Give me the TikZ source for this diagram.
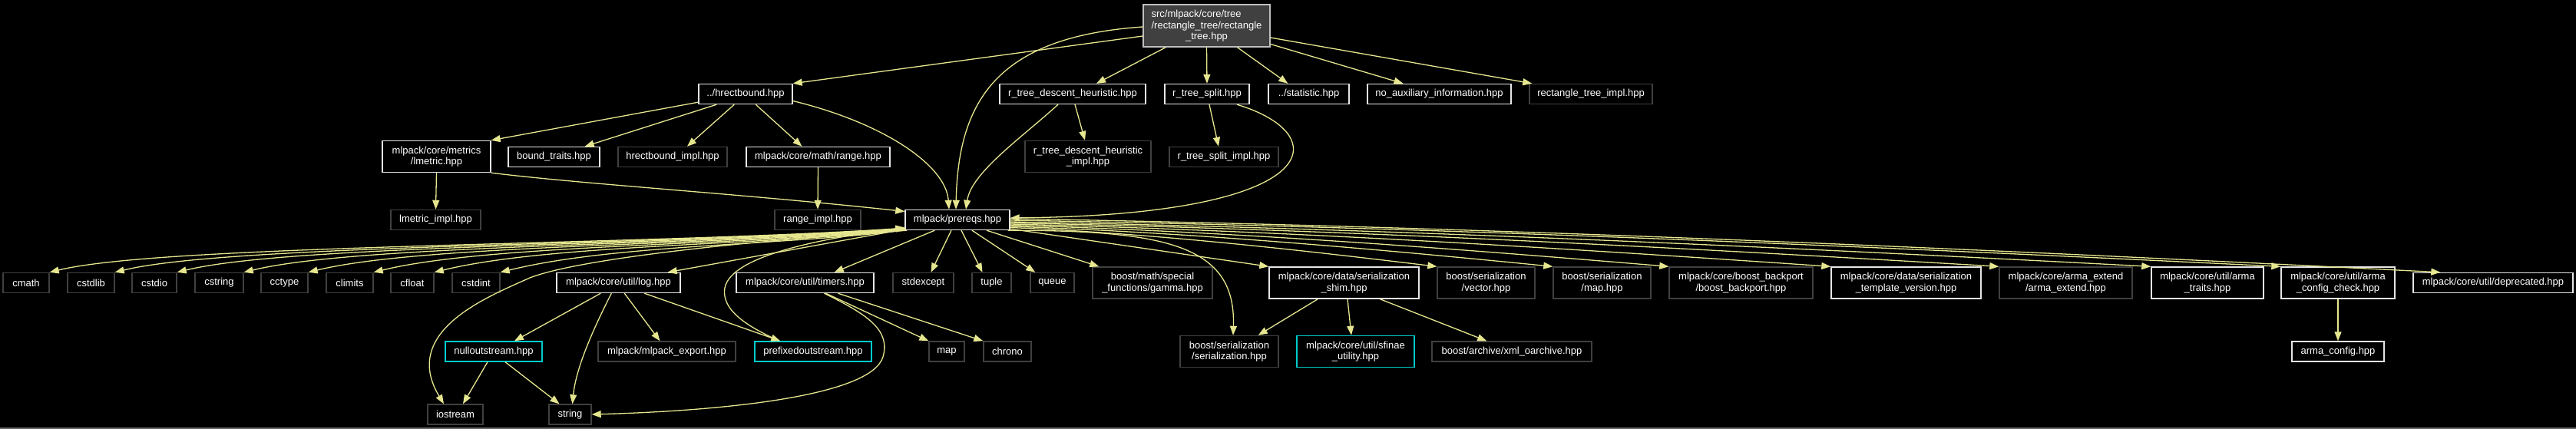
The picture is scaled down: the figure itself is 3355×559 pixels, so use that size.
\documentclass[tikz,border=0pt]{standalone}
\usepackage{fontspec}
\setmainfont{Liberation Sans}
\usetikzlibrary{arrows.meta,calc}
\definecolor{edgec}{HTML}{E6E68F}
\definecolor{undoc}{HTML}{404040}
\definecolor{docb}{HTML}{E6E6E6}
\definecolor{trunc}{HTML}{00CCCC}
\definecolor{rootfill}{HTML}{404040}
\definecolor{rootb}{HTML}{BFBFBF}
\tikzset{
  nbox/.style={draw, line width=1.4pt, fill=black, text=white, inner sep=0pt, align=center,
    font=\fontsize{13}{14.5}\selectfont},
  docbox/.style={nbox, draw=docb},
  udbox/.style={nbox, draw=undoc},
  trbox/.style={nbox, draw=trunc},
  ln1/.style={minimum height=26pt},
  ln2/.style={minimum height=41pt},
  conn/.style={draw=edgec, line width=1.3pt, -{Triangle[length=12pt,width=9pt]}},
}
\begin{document}
\begin{tikzpicture}[x=1pt,y=-1pt]
\fill[black] (0,0) rectangle (3355,559);
\useasboundingbox (0,0) rectangle (3355,559);
\draw[line width=1.5pt, color=black!60!white] (0,558) -- (3355,558);

% row 1
\node[nbox, draw=rootb, fill=rootfill, minimum width=165pt, minimum height=55pt] (root) at (1571.5,33.5)
  {\begin{tabular}[b]{@{}l@{}}src/mlpack/core/tree\\/rectangle\_tree/rectangle\end{tabular}\\\_tree.hpp};
% row 2
\node[docbox,ln1,minimum width=122pt] (hrect) at (971,122.5) {../hrectbound.hpp};
\node[docbox,ln1,minimum width=190pt] (rdh) at (1397,122.5) {r\_tree\_descent\_heuristic.hpp};
\node[docbox,ln1,minimum width=110pt] (rts) at (1572,122.5) {r\_tree\_split.hpp};
\node[docbox,ln1,minimum width=105pt] (stat) at (1704.5,122.5) {../statistic.hpp};
\node[docbox,ln1,minimum width=187pt] (noaux) at (1874.5,122.5) {no\_auxiliary\_information.hpp};
\node[udbox,ln1,minimum width=160pt] (rtimpl) at (2072,122.5) {rectangle\_tree\_impl.hpp};
% row 3
\node[docbox,ln2,minimum width=141pt] (lmetric) at (568.5,204) {mlpack/core/metrics\\/lmetric.hpp};
\node[docbox,ln1,minimum width=119pt] (bound) at (721.5,204.5) {bound\_traits.hpp};
\node[udbox,ln1,minimum width=142pt] (hrectimpl) at (876,204.5) {hrectbound\_impl.hpp};
\node[docbox,ln1,minimum width=187pt] (range) at (1065.5,204.5) {mlpack/core/math/range.hpp};
\node[udbox,ln2,minimum width=164pt] (rdhimpl) at (1417,204) {r\_tree\_descent\_heuristic\\\_impl.hpp};
\node[udbox,ln1,minimum width=142pt] (rtsimpl) at (1594,204.5) {r\_tree\_split\_impl.hpp};
% row 4
\node[udbox,ln1,minimum width=117pt] (lmimpl) at (567.5,286.5) {lmetric\_impl.hpp};
\node[udbox,ln1,minimum width=112pt] (rangeimpl) at (1065,286.5) {range\_impl.hpp};
\node[docbox,ln1,minimum width=136pt] (prereqs) at (1247,286.5) {mlpack/prereqs.hpp};
% row 5
\node[udbox,ln1,minimum width=60pt] (cmath) at (34,368.5) {cmath};
\node[udbox,ln1,minimum width=61pt] (cstdlib) at (118.5,368.5) {cstdlib};
\node[udbox,ln1,minimum width=58pt] (cstdio) at (201,368.5) {cstdio};
\node[udbox,ln1,minimum width=63pt] (cstring) at (285.5,368.5) {cstring};
\node[udbox,ln1,minimum width=61pt] (cctype) at (370.5,368.5) {cctype};
\node[udbox,ln1,minimum width=61pt] (climits) at (455.5,368.5) {climits};
\node[udbox,ln1,minimum width=56pt] (cfloat) at (537,368.5) {cfloat};
\node[udbox,ln1,minimum width=62pt] (cstdint) at (620,368.5) {cstdint};
\node[docbox,ln1,minimum width=161pt] (log) at (805.5,368.5) {mlpack/core/util/log.hpp};
\node[docbox,ln1,minimum width=179pt] (timers) at (1048.5,368.5) {mlpack/core/util/timers.hpp};
\node[udbox,ln1,minimum width=79pt] (stdexcept) at (1202.5,368.5) {stdexcept};
\node[udbox,ln1,minimum width=51pt] (tuple) at (1291.5,368.5) {tuple};
\node[udbox,ln1,minimum width=57pt] (queue) at (1370.5,368.5) {queue};
\node[udbox,ln2,minimum width=156pt] (gamma) at (1501,368.5) {boost/math/special\\\_functions/gamma.hpp};
\node[docbox,ln2,minimum width=195pt] (shim) at (1750.5,368.5) {mlpack/core/data/serialization\\\_shim.hpp};
\node[udbox,ln2,minimum width=127pt] (bsvector) at (1935.5,368.5) {boost/serialization\\/vector.hpp};
\node[udbox,ln2,minimum width=127pt] (bsmap) at (2086.5,368.5) {boost/serialization\\/map.hpp};
\node[udbox,ln2,minimum width=187pt] (backport) at (2267.5,368.5) {mlpack/core/boost\_backport\\/boost\_backport.hpp};
\node[docbox,ln2,minimum width=195pt] (stv) at (2482.5,368.5) {mlpack/core/data/serialization\\\_template\_version.hpp};
\node[udbox,ln2,minimum width=173pt] (armaext) at (2690.5,368.5) {mlpack/core/arma\_extend\\/arma\_extend.hpp};
\node[docbox,ln2,minimum width=146pt] (armatraits) at (2875,368.5) {mlpack/core/util/arma\\\_traits.hpp};
\node[docbox,ln2,minimum width=148pt] (armacc) at (3045,368.5) {mlpack/core/util/arma\\\_config\_check.hpp};
\node[docbox,ln1,minimum width=208pt] (deprecated) at (3247,368.5) {mlpack/core/util/deprecated.hpp};
% row 6
\node[trbox,ln1,minimum width=126pt] (nullout) at (643,458) {nulloutstream.hpp};
\node[udbox,ln1,minimum width=179pt] (mlexport) at (868.5,458) {mlpack/mlpack\_export.hpp};
\node[trbox,ln1,minimum width=152pt] (prefixed) at (1059,458) {prefixedoutstream.hpp};
\node[udbox,ln1,minimum width=46pt] (map) at (1233,458) {map};
\node[udbox,ln1,minimum width=62pt] (chrono) at (1312,458) {chrono};
\node[udbox,ln2,minimum width=128pt] (bsser) at (1601,458) {boost/serialization\\/serialization.hpp};
\node[trbox,ln2,minimum width=153pt] (sfinae) at (1765.5,458) {mlpack/core/util/sfinae\\\_utility.hpp};
\node[udbox,ln1,minimum width=208pt] (xmlo) at (1969,458) {boost/archive/xml\_oarchive.hpp};
\node[docbox,ln1,minimum width=120pt] (armaconf) at (3045,458) {arma\_config.hpp};
% row 7
\node[udbox,ln1,minimum width=72pt] (iostream) at (593,540) {iostream};
\node[udbox,ln1,minimum width=55pt] (string) at (742.5,540) {string};

% edges from root
\draw[conn] ($(root.west)+(0,13.5)$) -- (hrect.north east);
\draw[conn] ($(root.west)+(0,1.5)$) .. controls (1300,48) and (1248,130) .. ($(prereqs.north)+(-2,0)$);
\draw[conn] ($(root.south west)+(30,0)$) -- ($(rdh.north)+(31,0)$);
\draw[conn] (root.south) -- (rts.north);
\draw[conn] ($(root.south)+(40,0)$) -- ($(stat.north west)+(26,0)$);
\draw[conn] ($(root.east)+(0,24)$) -- ($(noaux.north)+(-47,0)$);
\draw[conn] ($(root.east)+(0,15.5)$) -- ($(rtimpl.north west)+(4,0)$);
% hrectbound
\draw[conn] ($(hrect.south west)+(0,-3)$) -- (lmetric.north east);
\draw[conn] ($(hrect.south west)+(24,0)$) -- ($(bound.north east)+(-20,0)$);
\draw[conn] ($(hrect.south west)+(47,0)$) -- ($(hrectimpl.north)+(19,0)$);
\draw[conn] ($(hrect.south west)+(75,0)$) -- ($(range.north)+(-21,0)$);
\draw[conn] ($(hrect.east)+(0,9)$) .. controls (1150,160) and (1232,215) .. ($(prereqs.north)+(-11,0)$);
% rdh
\draw[conn] ($(rdh.south)+(3,0)$) -- ($(rdhimpl.north)+(-4,0)$);
\draw[conn] ($(rdh.south)+(-19,0)$) .. controls (1330,180) and (1265,225) .. ($(prereqs.north)+(11,0)$);
% rts
\draw[conn] ($(rts.south)+(3,0)$) -- ($(rtsimpl.north)+(-7,0)$);
\draw[conn] ($(rts.south)+(39,0)$) .. controls (1740,175) and (1730,280) .. ($(prereqs.east)+(0,-2.5)$);
% lmetric, range
\draw[conn] (lmetric.south) -- (lmimpl.north);
\draw[conn] (lmetric.south east) .. controls (760,240) and (960,252) .. ($(prereqs.west)+(0,-11)$);
\draw[conn] (range.south) -- (rangeimpl.north);
% prereqs left fan
\draw[conn] ($(prereqs.south west)+(0,-3)$) .. controls (844,320) and (214,318) .. (cmath.north east);
\draw[conn] ($(prereqs.south west)+(0,-2.6)$) .. controls (870,320) and (299,318) .. (cstdlib.north east);
\draw[conn] ($(prereqs.south west)+(0,-2.2)$) .. controls (894,320) and (380,318) .. (cstdio.north east);
\draw[conn] ($(prereqs.south west)+(0,-1.8)$) .. controls (920,320) and (467,318) .. (cstring.north east);
\draw[conn] ($(prereqs.south west)+(0,-1.4)$) .. controls (946,320) and (551,318) .. (cctype.north east);
\draw[conn] ($(prereqs.south west)+(0,-1)$) .. controls (971,320) and (636,318) .. (climits.north east);
\draw[conn] ($(prereqs.south west)+(0,-0.6)$) .. controls (995,320) and (715,318) .. (cfloat.north east);
\draw[conn] ($(prereqs.south west)+(0,-0.2)$) .. controls (1021,320) and (801,318) .. (cstdint.north east);
% prereqs downward
\draw[conn] ($(prereqs.south west)+(0,-1.5)$) -- ($(log.north east)+(-17,0)$);
\draw[conn] ($(prereqs.south west)+(3,0)$) .. controls (1000,312) and (760,335) .. (690,362)
  .. controls (640,385) and (520,430) .. ($(iostream.north)+(-15,0)$);
\draw[conn] ($(prereqs.south west)+(39,0)$) -- ($(timers.north east)+(-52,0)$);
\draw[conn] ($(prereqs.south)+(-8,0)$) -- ($(stdexcept.north)+(10,0)$);
\draw[conn] ($(prereqs.south)+(5,0)$) -- ($(tuple.north)+(-12,0)$);
\draw[conn] ($(prereqs.south)+(19,0)$) -- ($(queue.north west)+(7,0)$);
\draw[conn] ($(prereqs.south)+(38,0)$) -- ($(gamma.north west)+(9,0)$);
\draw[conn] ($(prereqs.south east)+(0,-2)$) -- (shim.north west);
\draw[conn] ($(prereqs.south east)+(-3,0)$) .. controls (1520,300) and (1610,320) .. ($(bsser.north)+(5,0)$);
% prefixedoutstream back to prereqs
\draw[conn] ($(prefixed.north west)+(32,0)$) .. controls (990,432) and (938,410) .. (944,375)
  .. controls (952,335) and (1060,312) .. ($(prereqs.west)+(0,10)$);
% prereqs right fan
\draw[conn] ($(prereqs.east)+(0,-1.5)$) .. controls (1936,295.5) and (2558,323.5) .. ($(deprecated.north west)+(36,0)$);
\draw[conn] ($(prereqs.east)+(0,0.5)$) .. controls (1867,296) and (2419,320.5) .. (armacc.north west);
\draw[conn] ($(prereqs.east)+(0,2.5)$) .. controls (1811,298) and (2306,321.5) .. (armatraits.north west);
\draw[conn] ($(prereqs.east)+(0,4)$) .. controls (1745,299) and (2174,322) .. (armaext.north west);
\draw[conn] ($(prereqs.east)+(0,5.5)$) .. controls (1672,300.5) and (2028,323) .. (stv.north west);
\draw[conn] ($(prereqs.east)+(0,7)$) .. controls (1601,301.5) and (1888,323.5) .. (backport.north west);
\draw[conn] ($(prereqs.east)+(0,8.5)$) .. controls (1551,303) and (1787,324) .. (bsmap.north west);
\draw[conn] ($(prereqs.east)+(0,10)$) .. controls (1501,304) and (1686,325) .. (bsvector.north west);
% log
\draw[conn] ($(log.south west)+(58,0)$) -- ($(nullout.north)+(27,0)$);
\draw[conn] ($(log.south west)+(72,0)$) .. controls (772,430) and (750,480) .. ($(string.north)+(3,0)$);
\draw[conn] ($(log.south west)+(89,0)$) -- ($(mlexport.north)+(-9,0)$);
\draw[conn] ($(log.south west)+(115,0)$) -- ($(prefixed.north west)+(34,0)$);
% timers
\draw[conn] ($(timers.south)+(27,0)$) -- (map.north west);
\draw[conn] ($(timers.south)+(43,0)$) -- (chrono.north west);
\draw[conn] ($(timers.south)+(25,0)$) .. controls (1130,410) and (1160,430) .. (1150,465)
  .. controls (1135,515) and (950,535) .. (string.east);
% nulloutstream
\draw[conn] ($(nullout.south)+(-8,0)$) -- ($(iostream.north)+(10,0)$);
\draw[conn] ($(nullout.south)+(15,0)$) -- ($(string.north)+(-14,0)$);
% serialization shim
\draw[conn] ($(shim.south west)+(64,0)$) -- ($(bsser.north east)+(-27,0)$);
\draw[conn] ($(shim.south)+(4.5,0)$) -- ($(sfinae.north)+(-5.5,0)$);
\draw[conn] ($(shim.south west)+(145,0)$) -- ($(xmlo.north west)+(72,0)$);
% arma config check
\draw[conn] (armacc.south) -- (armaconf.north);
\end{tikzpicture}
\end{document}
